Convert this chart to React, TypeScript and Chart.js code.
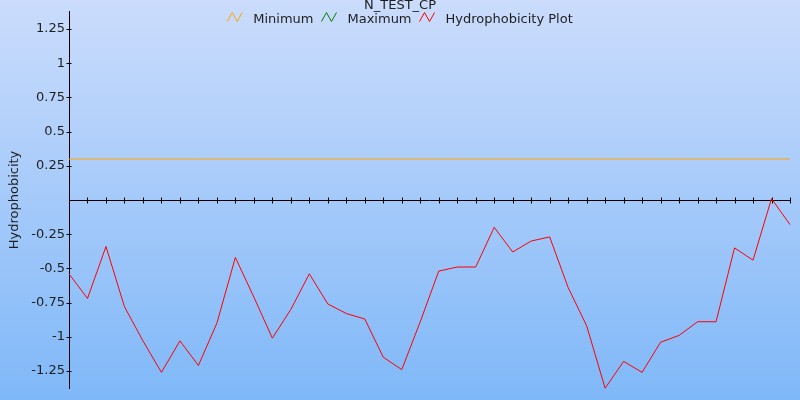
import React, { useEffect, useRef } from "react";
import { Chart, registerables } from "chart.js";

Chart.register(...registerables);

const CHART_TITLE = "N_TEST_CP";
const Y_AXIS_TITLE = "Hydrophobicity";
const SERIES_NAMES = ["Minimum", "Maximum", "Hydrophobicity Plot"];
const SERIES_COLORS = ["#ffa500", "#008000", "#ff0000"];

const POSITIONS = [
  1, 2, 3, 4, 5, 6, 7, 8, 9, 10, 11, 12, 13, 14, 15, 16, 17, 18, 19, 20,
  21, 22, 23, 24, 25, 26, 27, 28, 29, 30, 31, 32, 33, 34, 35, 36, 37, 38, 39, 40,
];

const HYDROPHOBICITY = [
  -0.54, -0.72, -0.34, -0.78, -1.03, -1.26, -1.03, -1.21, -0.9, -0.42,
  -0.71, -1.01, -0.8, -0.54, -0.76, -0.83, -0.87, -1.15, -1.24, -0.89,
  -0.52, -0.49, -0.49, -0.2, -0.38, -0.3, -0.27, -0.64, -0.92, -1.376,
  -1.18, -1.26, -1.04, -0.99, -0.89, -0.89, -0.35, -0.44, 0.01, -0.18,
];

const MIN_THRESHOLD = 0.3;
const MAX_THRESHOLD = 1.5;

const Y_TICKS = [-1.25, -1, -0.75, -0.5, -0.25, 0.25, 0.5, 0.75, 1, 1.25];
const Y_MIN = -1.376;
const Y_MAX = 1.376;

const FONT_FAMILY = "'DejaVu Sans', Verdana, sans-serif";
const TEXT_COLOR = "#1e1e1e";

function drawZigzag(ctx: CanvasRenderingContext2D, x: number, cy: number, color: string) {
  ctx.save();
  ctx.strokeStyle = color;
  ctx.lineWidth = 1;
  ctx.beginPath();
  ctx.moveTo(x, cy + 4.5);
  ctx.lineTo(x + 5, cy - 4.5);
  ctx.lineTo(x + 10, cy + 4.5);
  ctx.lineTo(x + 15, cy - 4.5);
  ctx.stroke();
  ctx.restore();
}

const backgroundPlugin = {
  id: "bgGradient",
  beforeDraw(chart: any) {
    const { ctx, width, height } = chart;
    const g = ctx.createLinearGradient(0, 0, 0, height);
    g.addColorStop(0, "rgb(203,220,252)");
    g.addColorStop(1, "rgb(127,184,248)");
    ctx.save();
    ctx.fillStyle = g;
    ctx.fillRect(0, 0, width, height);
    ctx.restore();
  },
};

const axesPlugin = {
  id: "crossAxes",
  beforeDatasetsDraw(chart: any) {
    const { ctx, chartArea, scales } = chart;
    const x = scales.x;
    const y = scales.y;
    const y0 = Math.round(y.getPixelForValue(0)) + 0.5;
    ctx.save();
    ctx.strokeStyle = "#000";
    ctx.lineWidth = 1;
    ctx.beginPath();
    ctx.moveTo(chartArea.left, y0);
    ctx.lineTo(chartArea.right, y0);
    // x ticks crossing the zero line
    for (let i = 1; i < POSITIONS.length; i++) {
      const px = Math.round(x.getPixelForValue(i)) + 0.5;
      ctx.moveTo(px, y0 - 3);
      ctx.lineTo(px, y0 + 3);
    }
    // y ticks crossing the y axis
    const lx = Math.round(chartArea.left) + 0.5;
    for (const v of Y_TICKS) {
      const py = Math.round(y.getPixelForValue(v)) + 0.5;
      ctx.moveTo(lx - 3, py);
      ctx.lineTo(lx + 2, py);
    }
    ctx.stroke();
    ctx.restore();
  },
};

const headerPlugin = {
  id: "header",
  afterDraw(chart: any) {
    const { ctx, width } = chart;
    ctx.save();
    ctx.font = `13px ${FONT_FAMILY}`;
    ctx.fillStyle = TEXT_COLOR;
    ctx.textBaseline = "alphabetic";
    ctx.textAlign = "center";
    ctx.fillText(CHART_TITLE, width / 2, 8.5);

    ctx.textAlign = "left";
    const iconW = 16;
    const gap = 10;
    const spacing = 8;
    const widths = SERIES_NAMES.map((n) => ctx.measureText(n).width);
    const total =
      widths.reduce((a, w) => a + iconW + gap + w, 0) + spacing * (SERIES_NAMES.length - 1);
    let cx = width / 2 - total / 2;
    SERIES_NAMES.forEach((name, i) => {
      drawZigzag(ctx, cx, 17, SERIES_COLORS[i]);
      ctx.fillStyle = TEXT_COLOR;
      ctx.fillText(name, cx + iconW + gap, 22.5);
      cx += iconW + gap + widths[i] + spacing;
    });
    ctx.restore();
  },
};

export default function App() {
  const canvasRef = useRef<HTMLCanvasElement | null>(null);

  useEffect(() => {
    document.body.style.margin = "0";
    const canvas = canvasRef.current;
    if (!canvas) return;
    const chart = new Chart(canvas, {
      type: "line",
      data: {
        labels: POSITIONS.map(String),
        datasets: [
          {
            label: SERIES_NAMES[0],
            data: POSITIONS.map(() => MIN_THRESHOLD),
            borderColor: SERIES_COLORS[0],
            borderWidth: 1,
            pointRadius: 0,
            fill: false,
          },
          {
            label: SERIES_NAMES[1],
            data: POSITIONS.map(() => MAX_THRESHOLD),
            borderColor: SERIES_COLORS[1],
            borderWidth: 1,
            pointRadius: 0,
            fill: false,
          },
          {
            label: SERIES_NAMES[2],
            data: HYDROPHOBICITY,
            borderColor: SERIES_COLORS[2],
            borderWidth: 1,
            pointRadius: 0,
            fill: false,
            tension: 0,
            clip: false,
          },
        ],
      },
      options: {
        animation: false,
        responsive: true,
        maintainAspectRatio: false,
        layout: { padding: { top: 10, right: 10, bottom: 11, left: 0 } },
        plugins: {
          legend: { display: false },
          title: { display: false },
          tooltip: { enabled: false },
        },
        scales: {
          x: {
            type: "category",
            display: false,
            offset: false,
          },
          y: {
            type: "linear",
            min: Y_MIN,
            max: Y_MAX,
            afterBuildTicks: (scale: any) => {
              scale.ticks = Y_TICKS.map((v) => ({ value: v }));
            },
            afterFit: (scale: any) => {
              scale.width = 69;
            },
            ticks: {
              color: TEXT_COLOR,
              font: { family: FONT_FAMILY, size: 13 },
              padding: 4,
              callback: (v: any) => String(Math.round(Number(v) * 100) / 100),
            },
            grid: { drawOnChartArea: false, drawTicks: false },
            border: { display: true, color: "#000", width: 1 },
            title: {
              display: true,
              text: Y_AXIS_TITLE,
              color: TEXT_COLOR,
              font: { family: FONT_FAMILY, size: 13 },
              padding: { top: 7, bottom: 0 },
            },
          },
        },
      },
      plugins: [backgroundPlugin, axesPlugin, headerPlugin],
    });
    return () => chart.destroy();
  }, []);

  return (
    <div style={{ width: 800, height: 400, position: "relative" }}>
      <canvas ref={canvasRef} />
    </div>
  );
}
